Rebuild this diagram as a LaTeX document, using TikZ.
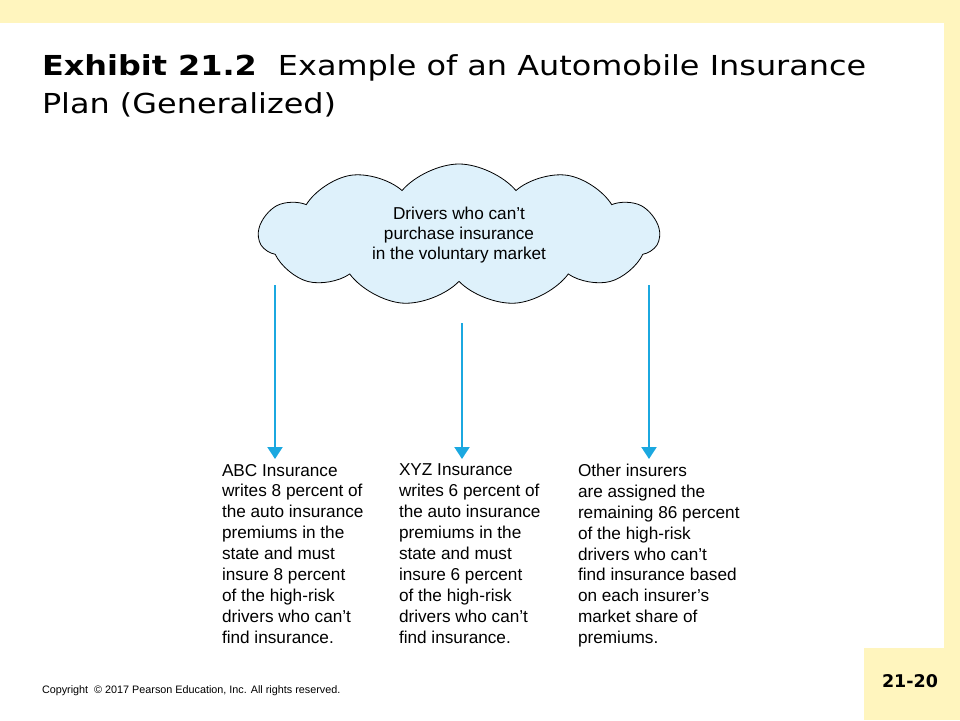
\documentclass[tikz,border=0pt]{standalone}
\usepackage{fontspec}
\setmainfont{Liberation Sans}
\newfontfamily\headfont{DejaVu Sans}
\newfontfamily\titlefont[FakeStretch=1.16]{DejaVu Sans}
\usetikzlibrary{shapes.symbols, arrows.meta}

\definecolor{slideyellow}{RGB}{255,245,190}
\definecolor{cloudblue}{RGB}{222,241,251}
\definecolor{flowblue}{RGB}{27,168,224}

\begin{document}
\begin{tikzpicture}[
    x=1pt, y=-1pt,
    every node/.style={inner sep=0pt, outer sep=0pt},
    bodytext/.style={anchor=north west, align=left, font=\fontsize{17.2}{20.9}\selectfont},
    flow/.style={draw=flowblue, line width=2.2pt, -{Triangle[width=15pt, length=12pt]}, shorten >=5pt}
]

    \useasboundingbox (0,0) rectangle (960,720);

    % --- SLIDE FRAME ---
    \fill[slideyellow] (0,0) rectangle (960,23);
    \fill[slideyellow] (944,0) rectangle (960,720);
    \fill[slideyellow] (864,648) rectangle (960,720);

    % --- TITLE ---
    \node[anchor=north west, align=left, font=\titlefont\fontsize{27.5}{38}\selectfont] (title) at (42,55)
        {\textbf{Exhibit 21.2}\hspace{0.4em} Example of an Automobile Insurance\\Plan (Generalized)};

    % --- POOL OF DRIVERS ---
    \node[cloud, draw=black, thick, fill=cloudblue, cloud puffs=11, cloud puff arc=100, aspect=2.8,
          minimum width=400pt, minimum height=142pt, align=center, font=\fontsize{17.2}{20}\selectfont] (pool) at (459,235)
        {Drivers who can't\\purchase insurance\\in the voluntary market};

    % --- INSURERS ---
    \node[bodytext] (abc) at (222,464)
        {ABC Insurance\\writes 8 percent of\\the auto insurance\\premiums in the\\state and must\\insure 8 percent\\of the high-risk\\drivers who can't\\find insurance.};
    \node[bodytext] (xyz) at (399,464)
        {XYZ Insurance\\writes 6 percent of\\the auto insurance\\premiums in the\\state and must\\insure 6 percent\\of the high-risk\\drivers who can't\\find insurance.};
    \node[bodytext] (others) at (578,464)
        {Other insurers\\are assigned the\\remaining 86 percent\\of the high-risk\\drivers who can't\\find insurance based\\on each insurer's\\market share of\\premiums.};

    % Arrow starts
    \coordinate (abc_from) at (275,285);
    \coordinate (xyz_from) at (462,323);
    \coordinate (others_from) at (649,285);

    % --- ASSIGNMENTS ---
    \draw[flow] (abc_from) -- (abc_from |- abc.north);
    \draw[flow] (xyz_from) -- (xyz_from |- xyz.north);
    \draw[flow] (others_from) -- (others_from |- others.north);

    % --- FOOTER ---
    \node[anchor=base west, font=\fontsize{10.8}{12}\selectfont] (copyright) at (42,693)
        {Copyright \ \textcopyright\ 2017 Pearson Education, Inc. All rights reserved.};
    \node[font=\headfont\bfseries\fontsize{17.5}{20}\selectfont] (slideno) at (910,681) {21-20};

\end{tikzpicture}
\end{document}
